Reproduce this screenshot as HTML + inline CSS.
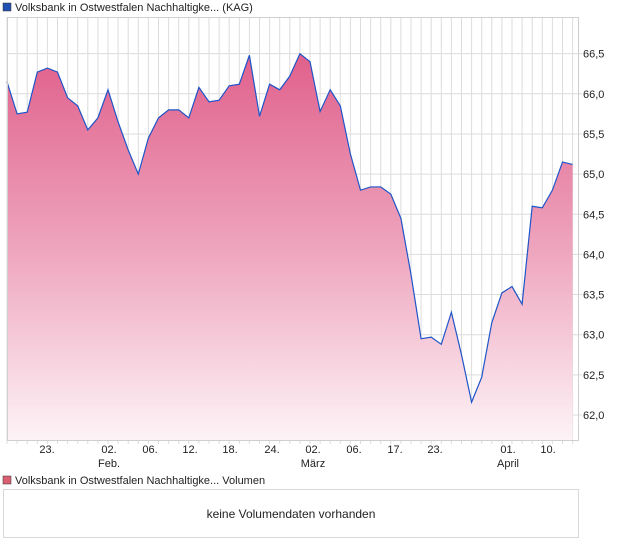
<!DOCTYPE html>
<html><head><meta charset="utf-8"><style>
body{margin:0;background:#fff;font-family:"Liberation Sans",Arial,sans-serif;}
svg text{font-family:"Liberation Sans",Arial,sans-serif;font-size:11px;fill:#222;}
</style></head><body>
<svg id="s" width="620" height="546" xmlns="http://www.w3.org/2000/svg">
<defs><linearGradient id="g" x1="0" y1="0" x2="0" y2="1">
<stop offset="0" stop-color="#e0608c"/><stop offset="0.5" stop-color="#eea4bd"/><stop offset="1" stop-color="#fdf3f6"/></linearGradient></defs>
<rect x="3" y="3" width="8" height="8" fill="#1f4fb0" stroke="#333" stroke-width="0.5"/>
<text x="15" y="11">Volksbank in Ostwestfalen Nachhaltigke... (KAG)</text>
<g id="grid" stroke="#dcdcdc" stroke-width="1"></g>
<path id="area" fill="url(#g)"/>
<path id="line" fill="none" stroke="#1f55c8" stroke-width="1.2"/>
<rect x="7.5" y="17.5" width="571" height="423" fill="none" stroke="#cfcfcf"/>
<g id="yl"></g>
<g id="xl" text-anchor="middle"></g>
<rect x="3" y="476" width="8" height="8" fill="#d96070" stroke="#333" stroke-width="0.5"/>
<text x="15" y="484">Volksbank in Ostwestfalen Nachhaltigke... Volumen</text>
<rect x="3.5" y="489.5" width="575" height="48" fill="#fff" stroke="#d8d8d8"/>
<text x="291" y="518" text-anchor="middle" style="font-size:12px">keine Volumendaten vorhanden</text>
</svg>
<script>
var v=[66.15,65.75,65.77,66.27,66.32,66.27,65.95,65.85,65.55,65.7,66.05,65.65,65.3,65.0,65.45,65.7,65.8,65.8,65.7,66.08,65.9,65.92,66.1,66.12,66.48,65.72,66.12,66.05,66.22,66.5,66.4,65.78,66.05,65.85,65.25,64.8,64.84,64.84,64.75,64.45,63.75,62.95,62.97,62.88,63.28,62.75,62.16,62.47,63.15,63.52,63.6,63.38,64.6,64.58,64.8,65.15,65.12];
function X(i){return 7+10.1*i;}function Y(a){return 415-(a-62)*80.3;}
var ns="http://www.w3.org/2000/svg",g=document.getElementById('grid'),h='';
for(var i=0;i<57;i++)h+='<line x1="'+X(i)+'" y1="17" x2="'+X(i)+'" y2="444"/>';
var yl='';
for(var k=0;k<10;k++){var a=62+k*0.5,y=Y(a);h+='<line x1="7" y1="'+y+'" x2="582" y2="'+y+'"/>';yl+='<text x="583" y="'+(y+4)+'">'+a.toFixed(1).replace('.',',')+'</text>';}
g.innerHTML=h;document.getElementById('yl').innerHTML=yl;
var d='';for(var i=0;i<v.length;i++)d+=(i?'L':'M')+X(i)+' '+Y(v[i]);
document.getElementById('line').setAttribute('d',d);
document.getElementById('area').setAttribute('d',d+'L'+X(56)+' 440L7 440Z');
var L=[[47,'23.'],[109,'02.','Feb.'],[150,'06.'],[190,'12.'],[230,'18.'],[272,'24.'],[313,'02.','März'],[354,'06.'],[395,'17.'],[435,'23.'],[508,'01.','April'],[548,'10.']],t='';
L.forEach(function(l){t+='<text x="'+l[0]+'" y="453">'+l[1]+'</text>';if(l[2])t+='<text x="'+l[0]+'" y="467">'+l[2]+'</text>';});
document.getElementById('xl').innerHTML=t;
</script>
</body></html>
